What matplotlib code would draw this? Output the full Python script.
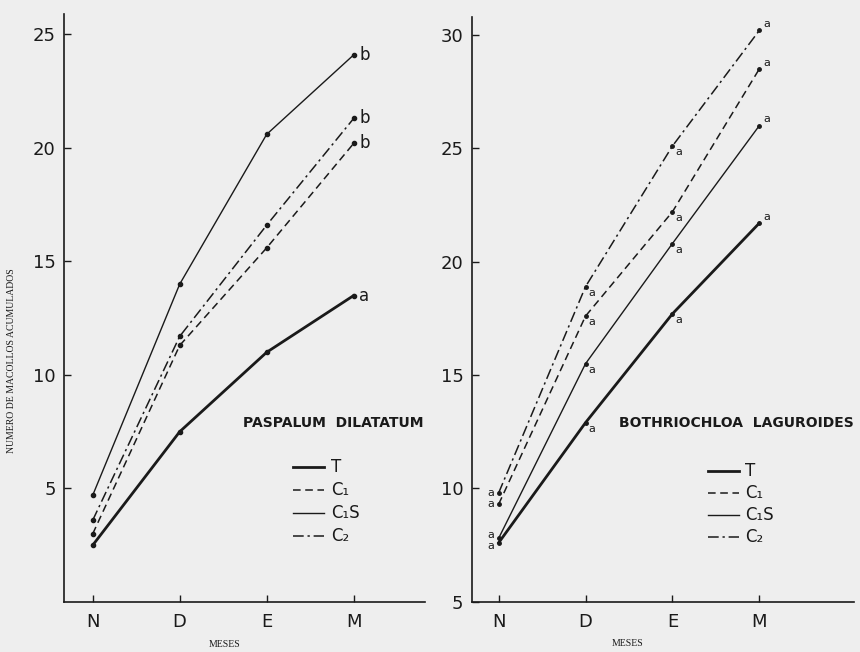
import numpy as np
import matplotlib
matplotlib.use("Agg")
import matplotlib.pyplot as plt

# months on the x axis
months = ["N", "D", "E", "M"]

# Paspalum dilatatum
pd_T = [2.5, 7.5, 11.0, 13.5]
pd_C1 = [3.0, 11.3, 15.6, 20.2]
pd_C1S = [4.7, 14.0, 20.6, 24.1]
pd_C2 = [3.6, 11.7, 16.6, 21.3]
pd_letters = {"T": "a", "C1": "b", "C1S": "b", "C2": "b"}

# Bothriochloa laguroides
bl_T = [7.6, 12.9, 17.7, 21.7]
bl_C1 = [9.3, 17.6, 22.2, 28.5]
bl_C1S = [7.8, 15.5, 20.8, 26.0]
bl_C2 = [9.8, 18.9, 25.1, 30.2]

BG = "#eeeeee"
INK = "#1a1a1a"
SERIF = ["Liberation Serif", "DejaVu Serif"]

plt.rcParams["font.family"] = ["DejaVu Sans"]

styles = {
    "T": dict(lw=2.0, ls="-"),
    "C1": dict(lw=1.1, ls=(0, (5, 3))),
    "C1S": dict(lw=1.0, ls="-"),
    "C2": dict(lw=1.1, ls=(0, (7, 2.5, 1.5, 2.5))),
}
legend_names = {"T": "T", "C1": "C\u2081", "C1S": "C\u2081S", "C2": "C\u2082"}

fig = plt.figure(figsize=(8.6, 6.52), dpi=100, facecolor=BG)
ax1 = fig.add_axes([0.0744, 0.0767, 0.4198, 0.9018], facecolor=BG)
ax2 = fig.add_axes([0.5485, 0.0771, 0.4445, 0.897], facecolor=BG)

x = np.arange(len(months))


def setup(ax, ylim, yticks, xlim, xlab_x):
    ax.set_xlim(*xlim)
    ax.set_ylim(*ylim)
    ax.set_xticks(x)
    ax.set_xticklabels(months)
    ax.set_yticks(yticks)
    for s in ["top", "right"]:
        ax.spines[s].set_visible(False)
    for s in ["left", "bottom"]:
        ax.spines[s].set_color(INK)
        ax.spines[s].set_linewidth(1.2)
    ax.tick_params(direction="in", length=5, width=1, colors=INK,
                   labelsize=13, pad=6)
    ax.tick_params(axis="x", pad=8)
    ax.set_xlabel("MESES", family=SERIF, fontsize=7, color=INK)
    ax.xaxis.set_label_coords(xlab_x, -0.064)


# ---- left panel ----
setup(ax1, (0, 25.9), [5, 10, 15, 20, 25], (-0.33, 3.82), 0.446)
series1 = {"T": pd_T, "C1": pd_C1, "C1S": pd_C1S, "C2": pd_C2}
for key, vals in series1.items():
    ax1.plot(x, vals, color=INK, marker="o", ms=3, **styles[key])
    ax1.annotate(pd_letters[key], (x[-1], vals[-1]), xytext=(4, 0),
                 textcoords="offset points", va="center", ha="left",
                 fontsize=12, color=INK)
ax1.set_ylabel("NUMERO DE MACOLLOS ACUMULADOS", family=SERIF,
               fontsize=7, color=INK)
ax1.yaxis.set_label_coords(-0.133, 0.41)
ax1.text(0.995, 0.305, "PASPALUM  DILATATUM", transform=ax1.transAxes,
         ha="right", va="center", fontsize=10, fontweight="bold", color=INK)

# ---- right panel ----
setup(ax2, (5, 30.8), [5, 10, 15, 20, 25, 30], (-0.31, 4.09), 0.407)
series2 = {"T": bl_T, "C1": bl_C1, "C1S": bl_C1S, "C2": bl_C2}
first_dy = {"T": -2.5, "C1": 0, "C1S": 2.5, "C2": 0}
for key, vals in series2.items():
    ax2.plot(x, vals, color=INK, marker="o", ms=2.5, **styles[key])
    for i, v in enumerate(vals):
        if i == 0:
            off, ha, va = (-3, first_dy[key]), "right", "center"
        elif i == len(vals) - 1:
            off, ha, va = (3, 1), "left", "bottom"
        else:
            off, ha, va = (2, -1), "left", "top"
        ax2.annotate("a", (x[i], v), xytext=off, textcoords="offset points",
                     ha=ha, va=va, fontsize=8, color=INK)
ax2.text(1.0, 0.305, "BOTHRIOCHLOA  LAGUROIDES", transform=ax2.transAxes,
         ha="right", va="center", fontsize=10, fontweight="bold", color=INK)


def legend_block(ax, x0, x1, y0, dy, xt):
    for j, key in enumerate(["T", "C1", "C1S", "C2"]):
        yy = y0 - j * dy
        ax.plot([x0, x1], [yy, yy], transform=ax.transAxes, color=INK,
                clip_on=False, **styles[key])
        ax.text(xt, yy, legend_names[key], transform=ax.transAxes,
                ha="left", va="center", fontsize=12, color=INK)


legend_block(ax1, 0.634, 0.72, 0.23, 0.039, 0.74)
legend_block(ax2, 0.619, 0.70, 0.224, 0.038, 0.715)

fig.savefig("out.png", dpi=100, facecolor=BG)
